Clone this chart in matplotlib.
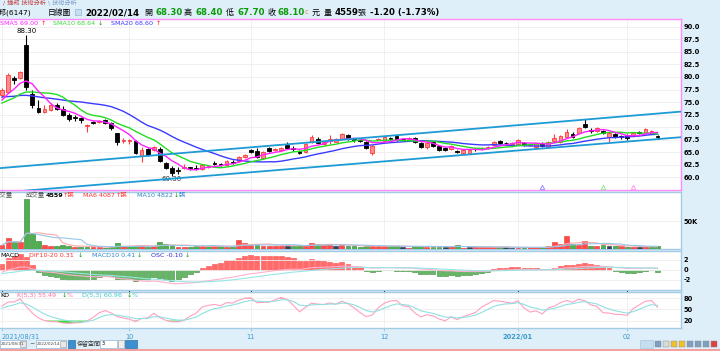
import numpy as np
import pandas as pd
import matplotlib
matplotlib.use("Agg")
import matplotlib.pyplot as plt
from matplotlib.patches import Rectangle

plt.rcParams['font.family'] = ['DejaVu Sans', 'Noto Sans CJK TC']

# ---- daily candles 2021/08/31 .. 2022/02/14 ----
holidays = ["2021-09-20", "2021-09-21", "2021-10-11", "2021-12-31", "2022-01-27",
            "2022-01-28", "2022-01-31", "2022-02-01", "2022-02-02", "2022-02-03", "2022-02-04"]

opens = [76.4, 77.0, 79.8, 79.7, 86.3, 76.7, 73.8, 73.1, 73.4, 74.4,
         73.7, 72.5, 72.0, 71.8, 70.2, 71.1, 71.0, 71.5, 70.8, 68.8,
         67.3, 67.2, 67.3, 64.3, 65.6, 65.5, 65.7, 62.9, 61.9, 61.5,
         61.8, 62.0, 61.9, 61.6, 62.1, 62.9, 62.7, 62.4, 63.1, 63.2,
         64.0, 65.5, 65.3, 63.8, 65.8, 65.5, 65.4, 66.5, 65.9, 65.3,
         65.0, 67.1, 67.7, 66.6, 67.3, 67.1, 67.7, 68.4, 67.6, 67.4,
         67.1, 64.9, 67.5, 67.3, 67.9, 68.2, 67.7, 67.6, 67.8, 66.8,
         66.0, 67.1, 66.2, 65.8, 65.6, 65.3, 64.8, 64.9, 65.7, 65.7,
         65.9, 66.4, 67.3, 66.9, 66.7, 66.7, 66.9, 66.5, 66.0, 66.8,
         66.1, 67.3, 67.1, 68.0, 68.7, 68.8, 70.7, 69.4, 69.3, 69.3,
         68.1, 68.7, 68.2, 68.5, 68.3, 69.0, 68.9, 68.8, 68.3]
highs = [77.8, 80.7, 80.2, 81.2, 88.3, 77.4, 75.4, 74.4, 74.8, 74.8,
         74.2, 72.9, 72.4, 72.0, 70.6, 71.3, 71.4, 71.7, 71.0, 68.9,
         67.9, 67.7, 67.5, 66.1, 65.8, 66.3, 66.0, 63.1, 62.2, 62.0,
         62.6, 62.1, 62.4, 62.7, 62.5, 63.3, 62.9, 63.5, 63.5, 64.2,
         64.7, 65.6, 65.8, 65.2, 66.0, 65.9, 66.0, 67.1, 66.3, 65.5,
         66.8, 68.5, 68.0, 67.2, 68.5, 67.9, 68.9, 68.6, 67.8, 67.6,
         67.3, 66.5, 67.9, 68.3, 68.1, 68.4, 67.9, 68.0, 68.0, 67.0,
         67.0, 67.3, 66.4, 66.0, 66.5, 65.4, 65.7, 65.6, 65.9, 66.0,
         66.3, 67.3, 67.5, 67.1, 67.0, 67.7, 67.1, 66.9, 66.9, 67.0,
         67.3, 68.7, 68.5, 69.6, 69.0, 70.0, 71.6, 69.9, 70.0, 69.5,
         69.0, 68.9, 68.5, 68.7, 69.1, 69.2, 69.8, 69.5, 68.4]
lows = [76.0, 76.8, 78.5, 79.5, 77.5, 73.8, 72.8, 72.9, 73.2, 73.4,
        72.2, 71.2, 71.3, 70.9, 69.1, 70.7, 70.8, 70.6, 69.5, 66.5,
        66.9, 66.6, 64.6, 63.0, 64.2, 65.3, 63.0, 61.6, 60.3, 60.7,
        61.6, 61.5, 61.4, 61.4, 61.8, 62.4, 62.2, 62.2, 62.7, 63.0,
        63.8, 64.8, 63.8, 63.6, 65.1, 65.3, 65.2, 65.7, 65.2, 64.6,
        64.8, 66.9, 66.6, 66.4, 66.7, 67.0, 67.5, 67.5, 67.1, 67.0,
        65.6, 64.5, 67.4, 67.1, 67.5, 67.3, 67.3, 67.4, 66.9, 65.9,
        65.7, 66.1, 65.3, 65.3, 65.4, 64.9, 64.6, 64.7, 65.3, 65.5,
        65.7, 66.2, 66.6, 66.5, 66.5, 66.5, 66.3, 66.3, 65.8, 66.0,
        65.9, 67.1, 66.9, 67.8, 67.9, 68.6, 69.8, 68.9, 69.1, 68.6,
        67.1, 67.8, 67.7, 67.5, 68.1, 68.7, 68.7, 68.6, 67.7]
closes = [77.4, 80.3, 79.3, 81.0, 78.0, 74.4, 73.0, 73.7, 74.5, 73.6,
          72.4, 71.6, 71.8, 71.5, 70.5, 70.9, 71.3, 70.8, 69.8, 67.1,
          67.5, 67.4, 64.9, 65.5, 64.5, 66.0, 63.3, 61.8, 60.9, 61.3,
          62.0, 61.8, 61.6, 62.5, 62.3, 62.7, 62.4, 63.2, 62.9, 64.0,
          64.5, 65.0, 64.0, 65.0, 65.3, 65.7, 65.9, 65.9, 65.7, 64.8,
          66.6, 68.1, 66.9, 67.0, 67.6, 67.6, 68.6, 67.7, 67.4, 67.3,
          65.9, 66.3, 67.7, 68.0, 67.7, 67.5, 67.5, 67.8, 67.0, 66.1,
          66.8, 66.3, 65.5, 65.5, 66.3, 65.1, 65.5, 65.5, 65.6, 65.8,
          66.0, 67.1, 66.8, 66.8, 66.8, 67.5, 66.5, 66.6, 66.8, 66.2,
          67.1, 67.8, 68.3, 69.1, 68.1, 69.8, 70.0, 69.3, 69.8, 68.8,
          68.8, 68.0, 68.1, 67.8, 68.9, 68.9, 69.6, 69.3, 68.1]
# volume in 張
volumes = [7000, 19000, 13000, 12000, 89000, 27000, 15000, 7000, 6000, 5000,
           7000, 6000, 3000, 4000, 4000, 4000, 3000, 2500, 3000, 10000,
           6000, 6000, 6000, 5000, 3000, 5000, 13000, 9000, 7000, 4000,
           4000, 3000, 5000, 6000, 5000, 6000, 5000, 4000, 4000, 16000,
           11000, 7000, 8000, 6000, 6000, 6000, 6000, 6000, 5000, 7000,
           6000, 11000, 9000, 8000, 9000, 5000, 7000, 6000, 5000, 4000,
           5000, 5000, 6000, 6000, 5000, 5000, 4000, 2500, 5000, 5000,
           4000, 4000, 4000, 4000, 5000, 7000, 2500, 3000, 3000, 3000,
           4000, 4000, 3000, 3000, 2500, 2500, 2500, 3000, 3000, 3000,
           6000, 13000, 9000, 23000, 9000, 7000, 14000, 6000, 6000, 6500,
           6000, 6200, 5000, 4460, 3800, 3600, 4000, 4100, 4559]
# closes before 8/31 (only feed the averages)
pre_closes = [78.5, 78.0, 77.6, 77.8, 77.0, 76.5, 77.2, 76.8, 76.9, 75.7,
              75.0, 74.2, 73.6, 73.8, 74.4, 74.0, 74.6, 75.2, 75.8]

# channel lines (index, price)
trend_x = [-0.33, 111.86]
trend_upper = [61.85, 73.1]
trend_lower = [56.96, 68.01]

# MA cross signal triangles
signal_idx = [89, 99, 104]
signal_colors = ['#9a8cff', '#8fe88f', '#ff99ee']

# ---- derived series ----
dates = pd.bdate_range('2021-08-31', '2022-02-14')
dates = dates[~dates.isin(pd.to_datetime(holidays))]
n = len(closes)
x = np.arange(n)
o, hi, lo, c = map(np.array, (opens, highs, lows, closes))
npre = len(pre_closes)
allc = pd.Series(pre_closes + closes)
sma5 = allc.rolling(5).mean().values[npre:]
sma10 = allc.rolling(10).mean().values[npre:]
sma20 = allc.rolling(20, min_periods=15).mean().values[npre:]
dif = allc.ewm(span=10, adjust=False).mean() - allc.ewm(span=20, adjust=False).mean()
macd = dif.ewm(span=10, adjust=False).mean()
osc = (dif - macd).values[npre:]
dif = dif.values[npre:]
macd = macd.values[npre:]

vol = pd.Series(volumes, dtype=float)
vma6 = vol.rolling(6, min_periods=1).mean()
vma10 = vol.rolling(10, min_periods=1).mean()

low5 = pd.Series(lows).rolling(5, min_periods=1).min().values
high5 = pd.Series(highs).rolling(5, min_periods=1).max().values
rsv = (c - low5) / (high5 - low5) * 100
K = np.empty(n); D = np.empty(n)
k0, d0 = 50.0, 50.0
for i in range(n):
    k0 = k0 * 2 / 3 + rsv[i] / 3
    d0 = d0 * 2 / 3 + k0 / 3
    K[i], D[i] = k0, d0

prev_c = np.concatenate([[pre_closes[-1]], c[:-1]])

tick_idx = [0] + [i for i in range(6, n) if dates[i].month != dates[i - 1].month]
tick_lab = []
for i in tick_idx:
    d = dates[i]
    if i == 0:
        tick_lab.append(d.strftime('%Y/%m/%d'))
    elif d.month == 1:
        tick_lab.append(d.strftime('%Y/%m'))
    else:
        tick_lab.append(d.strftime('%m'))

# ---- figure ----
W, H = 720, 351
fig = plt.figure(figsize=(7.2, 3.51), dpi=100, facecolor='#dfeffa')
PINK = '#ff8cff'
BLUE_EDGE = '#a3cbe3'
XL = (-0.33, 111.86)


def pax(x0, y0, x1, y1):
    return fig.add_axes([x0 / W, 1 - y1 / H, (x1 - x0) / W, (y1 - y0) / H])


def ftext(x0, y0, s, **kw):
    kw.setdefault('va', 'center')
    kw.setdefault('fontsize', 4.8)
    fig.text(x0 / W, 1 - y0 / H, s, **kw)


def frect(x0, y0, x1, y1, **kw):
    fig.patches.append(Rectangle((x0 / W, 1 - y1 / H), (x1 - x0) / W, (y1 - y0) / H,
                                 transform=fig.transFigure, figure=fig, **kw))


def style(ax, edge, yt, ylab):
    ax.set_xlim(*XL)
    ax.set_xticks(tick_idx)
    ax.tick_params(axis='x', length=0, labelbottom=False)
    ax.yaxis.tick_right()
    ax.set_yticks(yt)
    ax.set_yticklabels(ylab, fontsize=4.8, fontweight='bold')
    ax.tick_params(axis='y', length=0, pad=2)
    ax.grid(color='#eeeeee', lw=0.6)
    ax.set_axisbelow(True)
    for s in ax.spines.values():
        s.set_color(edge)
        s.set_linewidth(1.0)
    ax.spines['left'].set_visible(False)


# header
ftext(3, 3, '/ 捷邦 技術分析', color='#c04040', fontsize=4.4)
ftext(48, 3, '\\ 技術分析', color='#7a9cc8', fontsize=4.4)
ftext(31, 12.5, '捷邦(6147)', ha='right', fontsize=5.4)
ftext(48, 12.5, '日線圖', fontsize=5.6)
frect(75, 9, 81, 15, facecolor='#c7def0', edgecolor='#8fb4d4', lw=0.5)
ftext(85, 12.5, '2022/02/14', fontsize=6.2, fontweight='bold')
for xx, lab, val in [(144, '開', '68.30'), (184, '高', '68.40'), (226, '低', '67.70'), (267, '收', '68.10')]:
    ftext(xx, 12.5, lab, fontsize=5.8)
    ftext(xx + 11, 12.5, val, fontsize=6.2, fontweight='bold', color='#0a9a0a')
ftext(305, 12.5, 'c', fontsize=4.8, color='#e0901c')
ftext(312, 12.5, '元', fontsize=5.8)
ftext(324, 12.5, '量', fontsize=5.8)
ftext(335, 12.5, '4559', fontsize=6.2, fontweight='bold')
ftext(358, 12.5, '張', fontsize=5.8)
ftext(370, 12.5, '-1.20 (-1.73%)', fontsize=6.2, fontweight='bold')

# ---- main price panel ----
ax = pax(0, 19, 681, 190)
ax.set_facecolor('white')
yt = np.arange(60, 90.1, 2.5)
style(ax, PINK, yt, [f'{v:.1f}' for v in yt])
ax.set_ylim(57.5, 91.53)

up = c >= o
body_col = np.where(up, '#ff8a8a', 'black')
edge_col = np.where(up, '#ff3a3a', 'black')
ax.vlines(x, lo, hi, colors=edge_col, lw=0.8, zorder=3)
ax.bar(x, np.maximum(np.abs(c - o), 0.06), bottom=np.minimum(o, c), width=0.62,
       color=body_col, edgecolor=edge_col, lw=0.6, zorder=4)
ax.plot(x, sma20, color='#3a3aff', lw=1.0, zorder=5)
ax.plot(x, sma10, color='#22dd22', lw=1.0, zorder=5)
ax.plot(x, sma5, color='#ff22ff', lw=1.0, zorder=5)
ax.plot(trend_x, trend_upper, color='#1e9ad6', lw=1.3, zorder=6)
ax.plot(trend_x, trend_lower, color='#1e9ad6', lw=1.3, zorder=6)
ax.annotate('88.30', (int(np.argmax(hi)), hi.max()), xytext=(0, 1), textcoords='offset points',
            ha='center', va='bottom', fontsize=5)
ax.annotate('60.30', (int(np.argmin(lo)), lo.min()), xytext=(0, 0), textcoords='offset points',
            ha='center', va='top', fontsize=5, color='#333333')
for si, sc in zip(signal_idx, signal_colors):
    ax.plot(si, 58.1, marker='^', ms=3.2, mfc='none', mec=sc, mew=0.7, zorder=6)

ftext(0, 23.5, 'SMA5 69.00', color='#ff22ff', fontsize=4.6)
ftext(40.5, 23.5, '↑', color='#ff2020', fontsize=4.6)
ftext(53, 23.5, 'SMA10 68.64', color='#33dd33', fontsize=4.6)
ftext(98, 23.5, '↓', color='#119911', fontsize=4.6)
ftext(111, 23.5, 'SMA20 68.60', color='#3a3aff', fontsize=4.6)
ftext(156, 23.5, '↑', color='#ff2020', fontsize=4.6)

# ---- volume ----
axv = pax(0, 192, 681, 249)
axv.set_facecolor('white')
style(axv, BLUE_EDGE, [50000], ['50K'])
vcol = np.where(c > prev_c, '#ff4a4a', np.where(c < prev_c, '#4fae4f', '#33415e'))
vedge = np.where(c > prev_c, '#e83030', np.where(c < prev_c, '#2c7d2c', '#223050'))
axv.bar(x, volumes, width=0.8, color=vcol, edgecolor=vedge, lw=0.4, zorder=3)
axv.plot(x, vma6, color='#ffa6a6', lw=0.8, zorder=4)
axv.plot(x, vma10, color='#94c8ea', lw=0.8, zorder=4)
axv.set_ylim(0, 102000)
ftext(13, 195.5, '成交量', ha='right', color='#555555', fontsize=4.6)
ftext(26, 195.5, '成交量', color='#555555', fontsize=4.6)
ftext(46, 195.5, '4559', fontsize=4.6, fontweight='bold')
ftext(63, 195.5, '↑張', color='#ff3030', fontsize=4.6)
ftext(83, 195.5, 'MA6 4087', color='#ff3030', fontsize=4.6)
ftext(116, 195.5, '↑張', color='#ff3030', fontsize=4.6)
ftext(137, 195.5, 'MA10 4822', color='#2f86c6', fontsize=4.6)
ftext(174, 195.5, '↓', color='#119911', fontsize=4.6)
ftext(179, 195.5, '張', color='#2f86c6', fontsize=4.6)

# ---- MACD ----
axm = pax(0, 251, 681, 290)
axm.set_facecolor('white')
axm.set_xlim(*XL)
lim = np.abs(osc).max() / 3.3
axm.bar(x, osc, width=0.82, color=np.where(osc >= 0, '#ff6a6a', '#66b866'),
        edgecolor=np.where(osc >= 0, '#ff4a4a', '#3a8a3a'), lw=0.4, zorder=3)
axm.set_ylim(-4.0 * lim, 3.8 * lim)
axm.set_yticks([])
axm.set_xticks([])
for s in axm.spines.values():
    s.set_visible(False)
axl = axm.twinx()
style(axl, BLUE_EDGE, [2, 0, -2], ['2', '0', '-2'])
axl.set_ylim(-4.0, 3.8)
axl.plot(x, dif, color='#ffb0cc', lw=0.8)
axl.plot(x, macd, color='#96e6e6', lw=0.8)
ftext(0, 255.5, 'MACD', fontsize=4.6)
ftext(29, 255.5, 'DIF10-20 0.31', color='#ff3030', fontsize=4.6)
ftext(78, 255.5, '↓', color='#119911', fontsize=4.6)
ftext(92, 255.5, 'MACD10 0.41', color='#2f86c6', fontsize=4.6)
ftext(137, 255.5, '↓', color='#119911', fontsize=4.6)
ftext(151, 255.5, 'OSC -0.10', color='#2a2ad0', fontsize=4.6)
ftext(185, 255.5, '↓', color='#119911', fontsize=4.6)

# ---- KD ----
axk = pax(0, 292, 681, 328)
axk.set_facecolor('white')
style(axk, BLUE_EDGE, [20, 50, 80], ['20', '50', '80'])
axk.set_ylim(0, 97)
axk.fill_between(x, K, 20, where=K < 20, color='#33dd33', lw=0, interpolate=True)
axk.fill_between(x, K, 80, where=K > 80, color='#ff3333', lw=0, interpolate=True)
axk.plot(x, K, color='#ffa0c0', lw=0.8)
axk.plot(x, D, color='#90e0e0', lw=0.8)
axk.tick_params(axis='x', length=2.5, color=BLUE_EDGE, labelbottom=True, pad=1.5,
                labelsize=4.8, labelcolor='#3399cc')
axk.set_xticklabels(tick_lab)
for t, lab in zip(axk.get_xticklabels(), tick_lab):
    if lab.startswith('2021'):
        t.set_ha('left')
    if lab.startswith('2022'):
        t.set_fontweight('bold')
ftext(0, 295.5, 'KD', fontsize=4.6)
ftext(17, 295.5, 'K(5,3) 55.49', color='#ff6fa0', fontsize=4.6)
ftext(62, 295.5, '↓', color='#119911', fontsize=4.6)
ftext(67, 295.5, '%', color='#ff6fa0', fontsize=4.6)
ftext(82, 295.5, 'D(5,3) 60.96', color='#3cc8c8', fontsize=4.6)
ftext(127, 295.5, '↓', color='#119911', fontsize=4.6)
ftext(132, 295.5, '%', color='#3cc8c8', fontsize=4.6)

# ---- bottom bar ----
frect(0, 340, 26, 348, facecolor='white', edgecolor='#8fb4d4', lw=0.5)
ftext(0.5, 344, '2021/08/31', fontsize=3.0, color='#444444')
frect(20, 341, 26, 347, facecolor='#e8e8e8', edgecolor='#999999', lw=0.4)
ftext(29, 344, '~', fontsize=4.5)
frect(36, 340, 66, 348, facecolor='white', edgecolor='#8fb4d4', lw=0.5)
ftext(37, 344, '2022/02/14', fontsize=3.0, color='#444444')
frect(60, 341, 66, 347, facecolor='#e8e8e8', edgecolor='#999999', lw=0.4)
frect(68, 340, 75, 348, facecolor='#3d8fd0', edgecolor='#2a6fa8', lw=0.5)
ftext(77, 344, '保留空間', fontsize=4.3, color='#333333')
frect(100, 340, 117, 348, facecolor='white', edgecolor='#8fb4d4', lw=0.5)
ftext(102, 343.5, '3', fontsize=3.5)
frect(118, 340, 124, 348, facecolor='#eeeeee', edgecolor='#999999', lw=0.4)
frect(125, 340, 137, 348, facecolor='#3d8fd0', edgecolor='#2a6fa8', lw=0.5)
frect(640, 340, 653, 348, facecolor='#c5ddef', edgecolor='#a3cbe3', lw=0.5)
for k, col in enumerate(['#7f9fbf', '#d9d9d9', '#f0c030', '#f0c030', '#7f9fbf', '#7f9fbf', '#7f9fbf', '#e04040']):
    frect(655 + k * 8, 341, 661 + k * 8, 347, facecolor=col, edgecolor='#888888', lw=0.3)
frect(0, 349, 720, 351, facecolor='#f2a0a0', edgecolor='none')

fig.savefig('out.png', dpi=100, facecolor=fig.get_facecolor())
